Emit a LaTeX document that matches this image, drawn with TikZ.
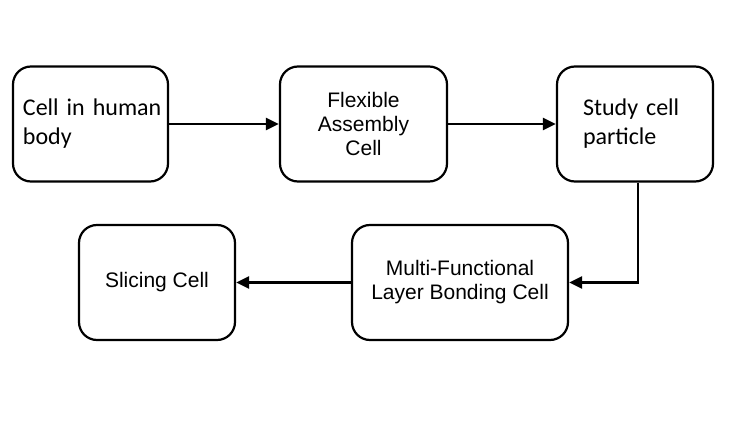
\documentclass[tikz,border=0pt]{standalone}
\usepackage{fontspec}
\setmainfont{Liberation Sans}
\newfontfamily\calibri{Carlito}
\usetikzlibrary{arrows.meta}
\begin{document}
\begin{tikzpicture}[x=1pt,y=-1pt,
  cell/.style={draw=black, line width=2.2pt, rounded corners=18pt, fill=white,
    minimum height=115pt, inner ysep=0pt},
  calfont/.style={font=\calibri\fontsize{24}{29}\selectfont, align=left},
  arfont/.style={font=\fontsize{21}{24}\selectfont, align=center},
  flow/.style={line width=2.6pt, -{Triangle[length=13pt,width=12pt]}},
]
\fill[white] (0,0) rectangle (753,436);
\useasboundingbox (0,0) rectangle (753,436);

\node[cell, calfont, text width=135pt, inner xsep=10pt] (a) at (90.5,124) {\mbox{Cell in human}\\body};
\node[cell, arfont, minimum width=167pt] (b) at (363.5,124) {Flexible\\Assembly\\Cell};
\node[cell, calfont, text width=104pt, inner xsep=26pt] (c) at (635,124) {\mbox{Study cell}\\particle};
\node[cell, arfont, minimum width=216pt] (d) at (460,282.5) {Multi-Functional\\Layer Bonding Cell};
\node[cell, arfont, minimum width=156pt] (e) at (157,282.5) {Slicing Cell};

\draw[flow] (a) -- (b);
\draw[flow] (b) -- (c);
\draw[flow, rounded corners=0pt] ([xshift=3pt]c.south) |- (d.east);
\draw[flow] (d) -- (e);
\end{tikzpicture}
\end{document}
